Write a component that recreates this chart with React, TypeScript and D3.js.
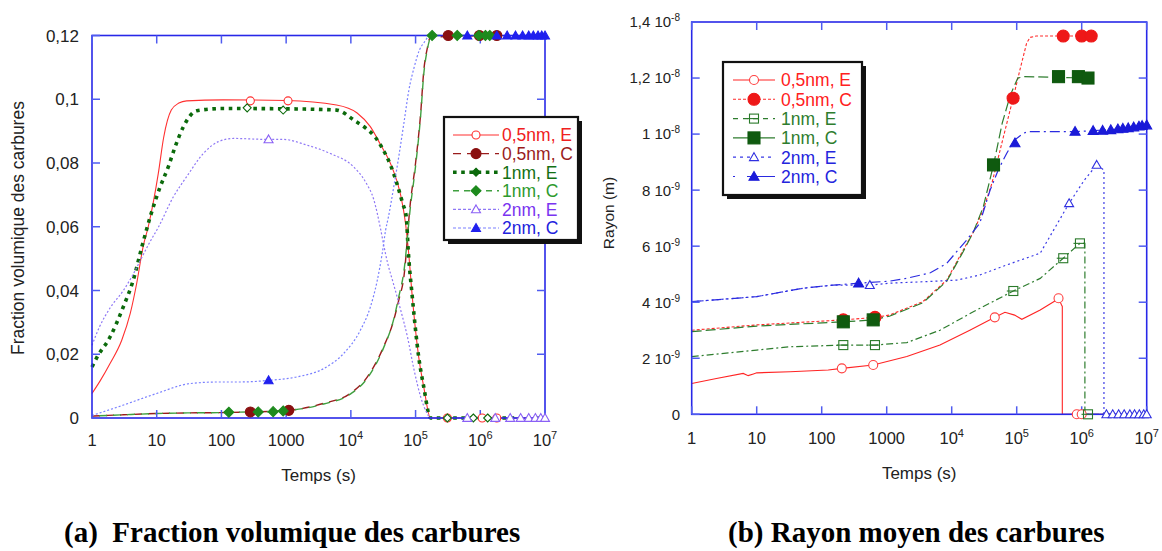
import React from 'react';
import * as d3 from 'd3';

const W = 1162;
const H = 551;

// ---------- shared axis data ----------
const timeTicks = [1, 10, 100, 1000, 1e4, 1e5, 1e6, 1e7];
const timeTickLabels: [string, string][] = [['1', ''], ['10', ''], ['100', ''], ['1000', ''], ['10', '4'], ['10', '5'], ['10', '6'], ['10', '7']];

// ---------- left chart: fraction volumique ----------
const fracTicks = [0, 0.02, 0.04, 0.06, 0.08, 0.1, 0.12];
const fracTickLabels = ['0', '0,02', '0,04', '0,06', '0,08', '0,1', '0,12'];

const fE05t = [1, 1.35, 1.9, 2.88, 3.9, 4.9, 6.2, 7.4, 10.6, 12.8, 16.8, 22, 29, 106, 1000, 6000, 12500, 20000, 28000, 43000, 58000, 70000, 78000, 89000, 112000, 134000, 170000, 1e7];
const fE05v = [0.0077, 0.0118, 0.0171, 0.0244, 0.0328, 0.0422, 0.054, 0.06, 0.0768, 0.088, 0.0966, 0.0988, 0.0995, 0.0998, 0.0996, 0.0982, 0.0957, 0.0914, 0.0862, 0.0788, 0.0705, 0.061, 0.052, 0.038, 0.019, 0.0097, 0, 0];

const fC05t = [1, 3, 10, 30, 100, 280, 1080, 3800, 9800, 18000, 32000, 46000, 55000, 66000, 83000, 100000, 120000, 134000, 150000, 170000, 2e6];
const fC05v = [0.0006, 0.001, 0.0014, 0.0016, 0.0017, 0.0019, 0.0024, 0.0046, 0.0077, 0.0129, 0.0223, 0.0307, 0.037, 0.0443, 0.0674, 0.08, 0.0957, 0.109, 0.1155, 0.1195, 0.12];

const fE1t = [1, 1.19, 1.9, 3.05, 4.3, 5.9, 7.9, 11.3, 15.1, 19.2, 25.9, 41.5, 108, 1000, 6000, 11600, 16800, 24000, 30500, 42000, 63000, 72000, 77000, 89000, 112000, 134000, 170000, 1e7];
const fE1v = [0.016, 0.019, 0.0254, 0.0349, 0.043, 0.0537, 0.063, 0.0725, 0.0788, 0.085, 0.0914, 0.0964, 0.0971, 0.097, 0.0966, 0.0932, 0.091, 0.088, 0.0847, 0.0788, 0.0674, 0.063, 0.0526, 0.038, 0.019, 0.0097, 0, 0];

const fC1t = [1, 3, 10, 30, 100, 130, 370, 630, 900, 3800, 9800, 18000, 32000, 46000, 55000, 66000, 83000, 100000, 120000, 134000, 150000, 180000, 2e6];
const fC1v = [0.0006, 0.001, 0.0014, 0.0016, 0.0017, 0.0018, 0.0019, 0.002, 0.0022, 0.0044, 0.0075, 0.0125, 0.022, 0.031, 0.038, 0.046, 0.066, 0.079, 0.095, 0.108, 0.115, 0.12, 0.12];

const fE2t = [1, 1.3, 1.9, 3.05, 4.3, 5.6, 7.5, 10.7, 18.1, 29, 52.6, 90, 153, 535, 910, 2100, 4800, 11000, 16800, 22700, 29000, 32600, 37000, 44000, 59000, 75000, 95000, 120000, 150000, 170000, 1e7];
const fE2v = [0.0228, 0.0285, 0.0345, 0.04, 0.045, 0.0495, 0.0545, 0.06, 0.0694, 0.0757, 0.083, 0.0867, 0.0877, 0.0874, 0.0874, 0.0856, 0.083, 0.0788, 0.0741, 0.0684, 0.059, 0.0537, 0.0486, 0.0432, 0.0338, 0.0254, 0.015, 0.0066, 0.0015, 0, 0];

const fC2t = [1, 3, 10, 32.6, 90, 195, 535, 1470, 3800, 7700, 14000, 20000, 25500, 30500, 34500, 38000, 46000, 55000, 66000, 79000, 95000, 115000, 134000, 170000, 1e7];
const fC2v = [0.0008, 0.004, 0.0077, 0.0108, 0.0113, 0.0113, 0.0118, 0.0129, 0.0155, 0.0202, 0.0275, 0.0348, 0.043, 0.0516, 0.059, 0.063, 0.0725, 0.082, 0.0925, 0.103, 0.11, 0.1155, 0.1177, 0.12, 0.12];

const fE05m: [number, number][] = [[280, 0.0995], [1070, 0.0995], [310000, 0], [1070000, 0], [1800000, 0]];
const fC05m: [number, number][] = [[280, 0.0019], [1100, 0.0024], [320000, 0.12], [970000, 0.12], [1800000, 0.12]];
const fE1m: [number, number][] = [[250, 0.0973], [900, 0.0966], [310000, 0], [780000, 0], [1300000, 0]];
const fC1m: [number, number][] = [[130, 0.0018], [370, 0.0019], [630, 0.002], [900, 0.0022], [180000, 0.12], [440000, 0.12], [950000, 0.12], [1200000, 0.12], [1400000, 0.12]];
const fE2m: [number, number][] = [[535, 0.0874], [630000, 0], [1700000, 0], [2900000, 0], [4200000, 0], [5600000, 0], [7100000, 0], [8600000, 0], [10000000, 0]];
const fC2m: [number, number][] = [[535, 0.0118], [630000, 0.12], [1800000, 0.12], [2600000, 0.12], [3500000, 0.12], [4500000, 0.12], [5600000, 0.12], [6600000, 0.12], [7800000, 0.12], [8900000, 0.12], [10000000, 0.12]];

// ---------- right chart: rayon (values in nm = 1e-9 m) ----------
const rayonTicks = [0, 2, 4, 6, 8, 10, 12, 14];
const rayonTickLabels: [string, string][] = [['0', ''], ['2 10', '-9'], ['4 10', '-9'], ['6 10', '-9'], ['8 10', '-9'], ['1 10', '-8'], ['1,2 10', '-8'], ['1,4 10', '-8']];

const rE05t = [1, 2.4, 6.2, 7.4, 8.9, 10, 32.6, 126, 204, 620, 2040, 6600, 19000, 46000, 66000, 93000, 120000, 230000, 410000, 440000, 490000, 503000, 503000, 1e7];
const rE05v = [1.1, 1.28, 1.46, 1.38, 1.44, 1.48, 1.52, 1.58, 1.64, 1.76, 2.06, 2.47, 3.0, 3.46, 3.64, 3.54, 3.39, 3.72, 4.08, 4.14, 3.9, 3.85, 0, 0];

const rC05t = [1, 10, 215, 660, 1100, 3600, 8400, 15000, 21500, 30600, 41500, 59000, 88000, 112000, 142000, 160000, 200000, 1.4e6];
const rC05v = [3.0, 3.19, 3.37, 3.46, 3.54, 4.02, 4.79, 5.86, 6.5, 7.3, 8.24, 9.67, 11.28, 12.29, 13.24, 13.45, 13.5, 13.5];

const rE1t = [1, 10, 32.6, 215, 660, 2040, 6600, 21500, 88700, 230000, 520000, 940000, 1120000, 1120000, 1e7];
const rE1v = [2.06, 2.29, 2.41, 2.47, 2.47, 2.56, 3.0, 3.66, 4.4, 4.85, 5.57, 6.1, 6.1, 0, 0];

const rC1t = [1, 10, 215, 620, 1100, 3600, 8400, 15000, 21500, 30600, 44000, 60000, 80000, 104000, 130000, 1.3e6];
const rC1v = [2.95, 3.15, 3.3, 3.37, 3.5, 3.98, 4.75, 5.8, 6.5, 7.4, 8.9, 10.4, 11.4, 12.0, 12.05, 12.0];

const rE2t = [1, 10, 52, 150, 550, 1100, 3600, 12000, 27000, 70000, 230000, 640000, 1100000, 1700000, 2200000, 2200000, 1e7];
const rE2v = [4.02, 4.2, 4.5, 4.61, 4.61, 4.68, 4.73, 4.79, 4.97, 5.33, 5.75, 7.53, 8.36, 8.9, 8.72, 0, 0];

const rC2t = [1, 10, 52, 150, 370, 1100, 2000, 4700, 8400, 17000, 27000, 39000, 52000, 70000, 93000, 127000, 150000, 790000, 1.5e6, 3.6e6, 6.3e6, 1e7];
const rC2v = [4.02, 4.2, 4.5, 4.61, 4.68, 4.75, 4.85, 5.05, 5.39, 6.22, 6.82, 8.0, 8.72, 9.31, 9.79, 10.03, 10.09, 10.09, 10.12, 10.18, 10.25, 10.32];

const rE05m: [number, number][] = [[204, 1.64], [620, 1.76], [46000, 3.46], [440000, 4.14], [840000, 0], [1000000, 0]];
const rC05m: [number, number][] = [[215, 3.37], [660, 3.46], [88000, 11.28], [520000, 13.5], [1000000, 13.5], [1400000, 13.5]];
const rE1m: [number, number][] = [[215, 2.47], [660, 2.47], [88700, 4.4], [520000, 5.57], [940000, 6.1], [1250000, 0]];
const rC1m: [number, number][] = [[215, 3.3], [620, 3.37], [44000, 8.9], [440000, 12.05], [890000, 12.05], [1250000, 12.0]];
const rE2m: [number, number][] = [[550, 4.61], [640000, 7.53], [1700000, 8.9], [2400000, 0], [3000000, 0], [3700000, 0], [4500000, 0], [5500000, 0], [6500000, 0], [7700000, 0], [9000000, 0], [10000000, 0]];
const rC2m: [number, number][] = [[370, 4.68], [94000, 9.68], [790000, 10.09], [1500000, 10.12], [2100000, 10.13], [2800000, 10.15], [3600000, 10.18], [4300000, 10.2], [5200000, 10.22], [6300000, 10.25], [7600000, 10.28], [8500000, 10.3], [10000000, 10.32]];

const legendLabels = ['0,5nm, E', '0,5nm, C', '1nm, E', '1nm, C', '2nm, E', '2nm, C'];

type Shape = 'circle' | 'diamond' | 'triangle' | 'square' | 'squarebar';
interface Series {
  t: number[];
  v: number[];
  marks: [number, number][];
  color: string;
  markColor: string;
  textColor: string;
  width: number;
  dash: string;
  dashOffset?: number;
  shape: Shape;
  filled: boolean;
  size: number;
  legendDash?: string;
}

const leftSeries: Series[] = [
  { t: fE05t, v: fE05v, marks: fE05m, color: '#ff3030', markColor: '#ff3030', textColor: '#f02020', width: 1.1, dash: '', shape: 'circle', filled: false, size: 4 },
  { t: fC05t, v: fC05v, marks: fC05m, color: '#9a1c1c', markColor: '#8a1010', textColor: '#9a1c1c', width: 1.4, dash: '8 6', shape: 'circle', filled: true, size: 5, legendDash: '8 6' },
  { t: fE1t, v: fE1v, marks: fE1m, color: '#0b6a0b', markColor: '#0b6a0b', textColor: '#137013', width: 3.6, dash: '3.6 4.6', shape: 'diamond', filled: false, size: 4, legendDash: '3.6 4.6' },
  { t: fC1t, v: fC1v, marks: fC1m, color: '#3f9f3f', markColor: '#1d8a1d', textColor: '#2e9a2e', width: 1.4, dash: '8 6', dashOffset: 7, shape: 'diamond', filled: true, size: 5, legendDash: '6 5' },
  { t: fE2t, v: fE2v, marks: fE2m, color: '#8f78f5', markColor: '#8a60f5', textColor: '#7a34f0', width: 1.2, dash: '2 2', shape: 'triangle', filled: false, size: 4.5, legendDash: '3 2' },
  { t: fC2t, v: fC2v, marks: fC2m, color: '#7a80ff', markColor: '#2020ee', textColor: '#2222dd', width: 1.2, dash: '2 2', shape: 'triangle', filled: true, size: 4.5, legendDash: '3 2' },
];

const rightSeries: Series[] = [
  { t: rE05t, v: rE05v, marks: rE05m, color: '#ff2424', markColor: '#ff4040', textColor: '#ff2020', width: 1.1, dash: '', shape: 'circle', filled: false, size: 4.5 },
  { t: rC05t, v: rC05v, marks: rC05m, color: '#ff2a2a', markColor: '#ee1818', textColor: '#ff2020', width: 1.1, dash: '3 2', shape: 'circle', filled: true, size: 6 },
  { t: rE1t, v: rE1v, marks: rE1m, color: '#2e7d2e', markColor: '#2a7a2a', textColor: '#2e7d2e', width: 1.2, dash: '7 3 2 3', shape: 'squarebar', filled: false, size: 4.5, legendDash: '5 5' },
  { t: rC1t, v: rC1v, marks: rC1m, color: '#2e7d2e', markColor: '#0f5a0f', textColor: '#2e7d2e', width: 1.2, dash: '10 4', shape: 'square', filled: true, size: 6, legendDash: '' },
  { t: rE2t, v: rE2v, marks: rE2m, color: '#3a3ae6', markColor: '#3030e0', textColor: '#2424dd', width: 1.2, dash: '2 3', shape: 'triangle', filled: false, size: 4.5, legendDash: '3 4' },
  { t: rC2t, v: rC2v, marks: rC2m, color: '#2a2ae0', markColor: '#1a1ad8', textColor: '#2424dd', width: 1.2, dash: '10 4 2 4', shape: 'triangle', filled: true, size: 5, legendDash: '2 12 30 0' },
];

const FRAME = '#2828e8';
const TICK = '#4f5cf0';
const SANS = '"Liberation Sans", Arial, sans-serif';

function Marker({ shape, x, y, size, color, filled }: { shape: Shape; x: number; y: number; size: number; color: string; filled: boolean }) {
  const fill = filled ? color : 'white';
  const sw = 1.1;
  if (shape === 'circle') return <circle cx={x} cy={y} r={size} fill={fill} stroke={color} strokeWidth={sw} />;
  if (shape === 'diamond') {
    const s = size;
    return <path d={`M${x},${y - s}L${x + s},${y}L${x},${y + s}L${x - s},${y}Z`} fill={fill} stroke={color} strokeWidth={sw} />;
  }
  if (shape === 'triangle') {
    const s = size;
    return <path d={`M${x},${y - s}L${x + s},${y + s * 0.75}L${x - s},${y + s * 0.75}Z`} fill={fill} stroke={color} strokeWidth={sw} />;
  }
  if (shape === 'square') {
    const s = size;
    return <rect x={x - s} y={y - s} width={2 * s} height={2 * s} fill={fill} stroke={color} strokeWidth={sw} />;
  }
  const s = size;
  return (
    <g>
      <rect x={x - s} y={y - s} width={2 * s} height={2 * s} fill="none" stroke={color} strokeWidth={sw} />
      <line x1={x - s - 2} x2={x + s} y1={y} y2={y} stroke={color} strokeWidth={sw} />
    </g>
  );
}

interface PanelProps {
  series: Series[];
  x0: number; x1: number; y0: number; y1: number;
  yDomain: [number, number];
  yTicks: number[];
  yTickNode: (i: number, y: number) => React.ReactNode;
  xLabelY: number;
  titleY: number;
  curve: any;
}

function Panel({ series, x0, x1, y0, y1, yDomain, yTicks, yTickNode, xLabelY, titleY, curve }: PanelProps) {
  const x = d3.scaleLog().domain([1, 1e7]).range([x0, x1]);
  const y = d3.scaleLinear().domain(yDomain).range([y1, y0]);
  const line = d3.line<[number, number]>().x(d => x(d[0])).y(d => y(d[1])).curve(curve);
  const tl = 8;
  return (
    <g>
      {series.map((s, i) => (
        <path key={'l' + i} d={line(s.t.map((t, j) => [t, s.v[j]] as [number, number])) || ''} fill="none" stroke={s.color} strokeWidth={s.width} strokeDasharray={s.dash || undefined} strokeDashoffset={s.dashOffset || 0} />
      ))}
      <rect x={x0} y={y0} width={x1 - x0} height={y1 - y0} fill="none" stroke={FRAME} strokeWidth={1.6} />
      {timeTicks.map((t, i) => (
        <g key={'xt' + i}>
          <line x1={x(t)} x2={x(t)} y1={y1} y2={y1 - tl} stroke={TICK} strokeWidth={1.5} />
          <line x1={x(t)} x2={x(t)} y1={y0} y2={y0 + tl} stroke={TICK} strokeWidth={1.5} />
          <text x={x(t)} y={xLabelY} textAnchor="middle" fontFamily={SANS} fontSize={16.5} fill="#222">
            {timeTickLabels[i][0]}
            {timeTickLabels[i][1] ? <tspan dy={-7} fontSize={11}>{timeTickLabels[i][1]}</tspan> : null}
          </text>
        </g>
      ))}
      {yTicks.map((v, i) => (
        <g key={'yt' + i}>
          <line x1={x0} x2={x0 + tl} y1={y(v)} y2={y(v)} stroke={TICK} strokeWidth={1.5} />
          <line x1={x1} x2={x1 - tl} y1={y(v)} y2={y(v)} stroke={TICK} strokeWidth={1.5} />
          {yTickNode(i, y(v))}
        </g>
      ))}
      {series.map((s, i) => (
        <g key={'m' + i}>
          {s.marks.map((m, j) => (
            <Marker key={j} shape={s.shape} x={x(m[0])} y={y(m[1])} size={s.size} color={s.markColor} filled={s.filled} />
          ))}
        </g>
      ))}
      <text x={(x0 + x1) / 2} y={titleY} textAnchor="middle" fontFamily={SANS} fontSize={17} fill="#222">Temps (s)</text>
    </g>
  );
}

function Legend({ series, x, y, w, h, rowY0, rowDy, sx0, sx1, tx, fontSize }: { series: Series[]; x: number; y: number; w: number; h: number; rowY0: number; rowDy: number; sx0: number; sx1: number; tx: number; fontSize: number }) {
  return (
    <g>
      <rect x={x + 4} y={y + 4} width={w} height={h} fill="#111" />
      <rect x={x} y={y} width={w} height={h} fill="white" stroke="#111" strokeWidth={2.2} />
      {series.map((s, i) => {
        const cy = rowY0 + i * rowDy;
        const dash = s.legendDash !== undefined ? s.legendDash : s.dash;
        return (
          <g key={i}>
            <line x1={sx0} x2={sx1} y1={cy} y2={cy} stroke={s.color} strokeWidth={s.width} strokeDasharray={dash || undefined} />
            <Marker shape={s.shape} x={(sx0 + sx1) / 2} y={cy} size={s.size} color={s.markColor} filled={s.shape === 'diamond' ? true : s.filled} />
            <text x={tx} y={cy} dy="0.36em" fontFamily={SANS} fontSize={fontSize} fill={s.textColor}>{legendLabels[i]}</text>
          </g>
        );
      })}
    </g>
  );
}

export default function App() {
  return (
    <svg width={W} height={H} viewBox={`0 0 ${W} ${H}`} style={{ position: 'absolute', left: 0, top: 0, background: 'white' }}>
      <rect x={0} y={0} width={W} height={H} fill="white" />
      {/* left chart */}
      <Panel
        series={leftSeries}
        x0={92} x1={545} y0={35.5} y1={418}
        yDomain={[0, 0.12]}
        yTicks={fracTicks}
        yTickNode={(i, yy) => (
          <text x={79} y={yy} dy="0.36em" textAnchor="end" fontFamily={SANS} fontSize={17} fill="#222">{fracTickLabels[i]}</text>
        )}
        xLabelY={446}
        titleY={481}
        curve={d3.curveMonotoneX}
      />
      <text transform="translate(24,228) rotate(-90)" textAnchor="middle" fontFamily={SANS} fontSize={17.5} fill="#222">Fraction volumique des carbures</text>
      <Legend series={leftSeries} x={444} y={117} w={134} h={123} rowY0={135} rowDy={18.6} sx0={453} sx1={499} tx={502} fontSize={17.5} />

      {/* right chart */}
      <Panel
        series={rightSeries}
        x0={691.7} x1={1146.7} y0={22} y1={414.3}
        yDomain={[0, 14]}
        yTicks={rayonTicks}
        yTickNode={(i, yy) => (
          <text x={680} y={yy} dy="0.36em" textAnchor="end" fontFamily={SANS} fontSize={15} fill="#222">
            {rayonTickLabels[i][0]}
            {rayonTickLabels[i][1] ? <tspan dy={-6} fontSize={10}>{rayonTickLabels[i][1]}</tspan> : null}
          </text>
        )}
        xLabelY={444}
        titleY={479}
        curve={d3.curveLinear}
      />
      <text transform="translate(614,213) rotate(-90)" textAnchor="middle" fontFamily={SANS} fontSize={15.5} fill="#222">Rayon (m)</text>
      <Legend series={rightSeries} x={723} y={62} w={139} h={133} rowY0={80} rowDy={19.3} sx0={733} sx1={775} tx={781} fontSize={17.5} />

      {/* captions */}
      <text x={64} y={542} fontFamily={'"Liberation Serif", "Times New Roman", serif'} fontWeight="bold" fontSize={29} fill="#000" style={{ whiteSpace: 'pre' }}>{'(a)  Fraction volumique des carbures'}</text>
      <text x={728} y={542} fontFamily={'"Liberation Serif", "Times New Roman", serif'} fontWeight="bold" fontSize={29} fill="#000" style={{ whiteSpace: 'pre' }}>{'(b) Rayon moyen des carbures'}</text>
    </svg>
  );
}
